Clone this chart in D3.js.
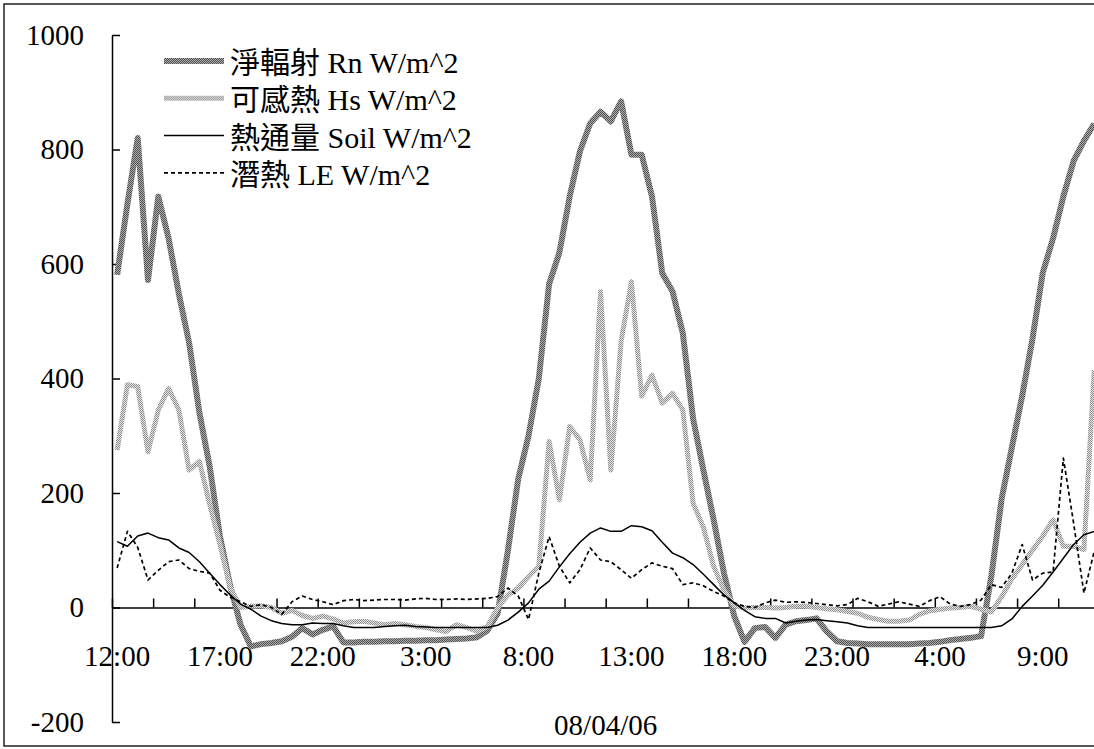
<!DOCTYPE html>
<head>
  <meta charset="utf-8">
  <title>Energy balance</title>
  <script src="https://cdn.jsdelivr.net/npm/d3@7"></script>
  <style>
    body { margin: 0; background: #fff; }
    text { font-family: "Liberation Serif", "Times New Roman", "Noto Sans CJK TC", serif; fill: #000; }
  </style>
</head>

<body>

  <script type="text/javascript">
    var WIDTH = 1094;
    var HEIGHT = 749;
    var LEFT = 112;      // y axis position
    var TOP = 35;        // y = 1000
    var BOTTOM = 722;    // y = -200
    var STEP = 10.285;   // width of one half-hour category

    //===========data (half-hourly, 12:00 day 1 -> 11:30 day 3)
    var times = [
      "12:00","12:30","13:00","13:30","14:00","14:30","15:00","15:30","16:00","16:30","17:00","17:30",
      "18:00","18:30","19:00","19:30","20:00","20:30","21:00","21:30","22:00","22:30","23:00","23:30",
      "0:00","0:30","1:00","1:30","2:00","2:30","3:00","3:30","4:00","4:30","5:00","5:30",
      "6:00","6:30","7:00","7:30","8:00","8:30","9:00","9:30","10:00","10:30","11:00","11:30",
      "12:00","12:30","13:00","13:30","14:00","14:30","15:00","15:30","16:00","16:30","17:00","17:30",
      "18:00","18:30","19:00","19:30","20:00","20:30","21:00","21:30","22:00","22:30","23:00","23:30",
      "0:00","0:30","1:00","1:30","2:00","2:30","3:00","3:30","4:00","4:30","5:00","5:30",
      "6:00","6:30","7:00","7:30","8:00","8:30","9:00","9:30","10:00","10:30","11:00","11:30"
    ];

    var rn = [
      581, 705, 820, 572, 718, 645, 548, 462, 340, 246, 124, 37,
      -30, -68, -64, -62, -59, -51, -36, -47, -39, -33, -61, -61,
      -60, -60, -59, -59, -58, -58, -57, -57, -56, -55, -54, -52,
      -40, -10, 100, 225, 300, 400, 565, 620, 718, 797, 846, 866,
      849, 884, 791, 791, 718, 584, 552, 479, 330, 240, 153, 60,
      -15, -60, -36, -34, -53, -30, -24, -22, -19, -42, -59, -62,
      -63, -64, -64, -64, -64, -64, -63, -62, -60, -57, -55, -53,
      -50, 55, 190, 280, 370, 470, 585, 645, 718, 780, 815, 845
    ];

    var hs = [
      275, 389, 386, 272, 345, 383, 345, 240, 255, 180, 110, 35,
      0, 2, 3, 0, -10, -5, -14, -19, -15, -20, -27, -25,
      -24, -27, -30, -28, -30, -33, -35, -39, -42, -30, -35, -42,
      -33, 0, 22, 34, 54, 72, 290, 188, 316, 293, 223, 552,
      240, 465, 569, 369, 406, 357, 374, 345, 182, 140, 72, 30,
      3, -1, 0, 0, -1, 0, 2, 2, 0, -2, -4, -7,
      -10, -17, -21, -24, -24, -22, -12, -6, -3, -1, 0, 2,
      -3, -8, 19, 50, 75, 100, 125, 153, 107, 107, 101, 415
    ];

    var soil = [
      115, 107, 125, 130, 122, 118, 104, 96, 80, 60, 40, 22,
      6, -3, -15, -23, -28, -30, -30, -27, -28, -28, -32, -35,
      -35, -35, -33, -32, -31, -33, -34, -35, -35, -35, -35, -35,
      -35, -31, -22, -8, 8, 32, 46, 71, 94, 114, 130, 139,
      133, 133, 143, 141, 134, 114, 95, 87, 75, 58, 40, 22,
      8, -5, -16, -19, -19, -27, -24, -22, -21, -23, -25, -27,
      -32, -35, -35, -35, -35, -35, -35, -35, -35, -35, -35, -35,
      -35, -35, -32, -20, 2, 20, 39, 62, 86, 110, 127, 133
    ];

    var le = [
      69, 133, 105, 48, 65, 80, 83, 68, 63, 60, 30, 18,
      10, 2, 5, 0, -12, 10, 20, 14, 10, 5, 12, 14,
      12, 13, 14, 14, 13, 15, 16, 14, 14, 15, 14, 15,
      16, 19, 34, 20, -21, 60, 124, 72, 43, 66, 104, 83,
      80, 66, 51, 66, 78, 72, 68, 40, 43, 38, 28, 20,
      8, 2, 0, 8, 13, 9, 10, 9, 7, 5, 3, 5,
      16, 10, 2, 6, 10, 6, 2, 12, 19, 6, 2, 5,
      13, 40, 35, 60, 110, 48, 60, 62, 261, 147, 25, 98
    ];

    var seriesNames = ["淨輻射 Rn W/m^2", "可感熱 Hs W/m^2", "熱通量 Soil W/m^2", "潛熱 LE W/m^2"];
    var yTicks = [-200, 0, 200, 400, 600, 800, 1000];
    var xTitle = "08/04/06";
    var LABEL_EVERY = 10;   // a time label every 5 hours
    var TICK_EVERY = 4;     // a tick mark every 2 hours

    //===========svg
    var svg = d3.select("body").append("svg")
                .attr("width", WIDTH)
                .attr("height", HEIGHT);

    var defs = svg.append("defs");
    makeChecker("patRn", "#adadad", "#505050");
    makeChecker("patHs", "#e6e6e6", "#8e8e8e");

    svg.append("rect")
       .attr("width", WIDTH).attr("height", HEIGHT)
       .attr("fill", "#fff");

    // chart border (cut off on the right)
    svg.append("rect")
       .attr("x", 4).attr("y", 4)
       .attr("width", WIDTH + 20).attr("height", 742)
       .attr("fill", "none")
       .attr("stroke", "#222")
       .attr("stroke-width", 1.5);

    //===========scales
    var N = times.length;
    var x = d3.scaleBand()
              .domain(d3.range(N))
              .range([LEFT, LEFT + N * STEP]);
    var xEdge = d3.scaleLinear()
              .domain([0, N])
              .range([LEFT, LEFT + N * STEP]);
    var y = d3.scaleLinear()
              .domain([-200, 1000])
              .range([BOTTOM, TOP]);

    function cx(i){ return x(i) + x.bandwidth() / 2; }

    //===========axes
    var yAxis = d3.axisLeft(y)
                  .tickValues(yTicks)
                  .tickFormat(function(d){ return String(d); })
                  .tickSizeInner(-8)
                  .tickSizeOuter(0)
                  .tickPadding(28);
    var gy = svg.append("g")
       .attr("transform", "translate(" + LEFT + ",0)")
       .call(yAxis);
    styleAxis(gy);

    var xTickAxis = d3.axisBottom(xEdge)
                  .tickValues(d3.range(0, N + 1, TICK_EVERY))
                  .tickFormat("")
                  .tickSizeInner(-9)
                  .tickSizeOuter(0);
    var gx = svg.append("g")
       .attr("transform", "translate(0," + y(0) + ")")
       .call(xTickAxis);
    styleAxis(gx);

    var xLabelAxis = d3.axisBottom(x)
                  .tickValues(d3.range(0, N, LABEL_EVERY))
                  .tickFormat(function(i){ return times[i]; })
                  .tickSize(0)
                  .tickPadding(38);
    var gl = svg.append("g")
       .attr("transform", "translate(0," + y(0) + ")")
       .call(xLabelAxis);
    gl.select(".domain").remove();
    styleAxis(gl);

    svg.append("text")
       .attr("x", (LEFT + LEFT + N * STEP) / 2)
       .attr("y", 735)
       .attr("text-anchor", "middle")
       .attr("font-size", 29)
       .text(xTitle);

    //===========lines
    var styles = [
      { data: rn,   stroke: "url(#patRn)", width: 6,   dash: null },
      { data: hs,   stroke: "url(#patHs)", width: 5,   dash: null },
      { data: soil, stroke: "#000",        width: 1.5, dash: null },
      { data: le,   stroke: "#000",        width: 1.7, dash: "4,3" }
    ];

    var line = d3.line()
                 .x(function(d, i){ return cx(i); })
                 .y(function(d){ return y(d); });

    svg.selectAll("path.series")
       .data(styles)
       .enter().append("path")
       .attr("class", "series")
       .attr("d", function(s){ return line(s.data); })
       .attr("fill", "none")
       .attr("stroke", function(s){ return s.stroke; })
       .attr("stroke-width", function(s){ return s.width; })
       .attr("stroke-dasharray", function(s){ return s.dash; })
       .attr("stroke-linejoin", "round");

    //===========legend
    var legend = svg.selectAll("g.legend")
       .data(styles)
       .enter().append("g")
       .attr("class", "legend")
       .attr("transform", function(d, i){ return "translate(164," + (61 + i * 37.3) + ")"; });

    legend.append("line")
       .attr("x1", 0).attr("x2", 60)
       .attr("stroke", function(s){ return s.stroke; })
       .attr("stroke-width", function(s){ return s.width; })
       .attr("stroke-dasharray", function(s){ return s.dash; });

    legend.append("text")
       .attr("x", 66)
       .attr("y", 12)
       .attr("font-size", 30)
       .text(function(d, i){ return seriesNames[i]; });


    function styleAxis(g){
      g.selectAll(".domain").attr("stroke", "#000").attr("stroke-width", 1.5);
      g.selectAll(".tick line").attr("stroke", "#000").attr("stroke-width", 1.5);
      g.selectAll(".tick text")
       .attr("font-size", 29)
       .attr("font-family", null)
       .attr("fill", "#000");
      g.attr("font-family", null).attr("font-size", null);
    }

    function makeChecker(id, light, dark){
      var p = defs.append("pattern")
                  .attr("id", id)
                  .attr("patternUnits", "userSpaceOnUse")
                  .attr("width", 2).attr("height", 2);
      p.append("rect").attr("width", 2).attr("height", 2).attr("fill", light);
      p.append("rect").attr("width", 1).attr("height", 1).attr("fill", dark);
      p.append("rect").attr("x", 1).attr("y", 1).attr("width", 1).attr("height", 1).attr("fill", dark);
    }

  </script>
</body>
